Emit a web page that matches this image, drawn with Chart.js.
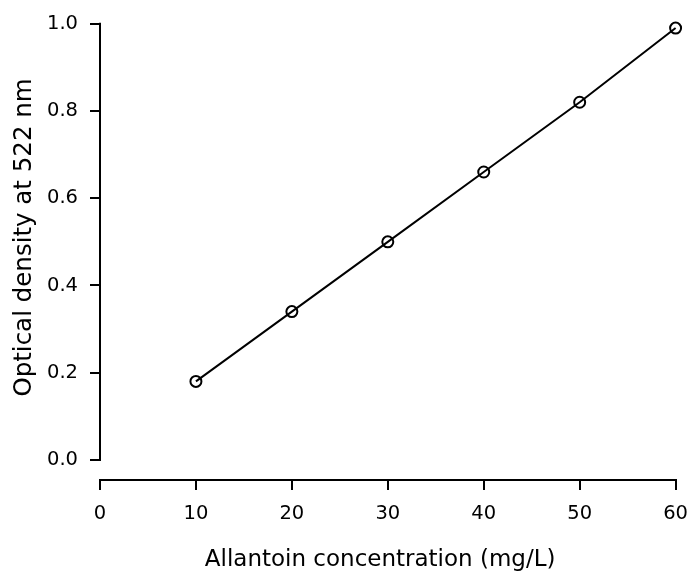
<!DOCTYPE html>
<html>
<head>
<meta charset="utf-8">
<title>Allantoin calibration</title>
<script src="https://cdn.jsdelivr.net/npm/chart.js@4/dist/chart.umd.min.js"></script>
<style>
    html, body { margin: 0; padding: 0; background: #fff; overflow: hidden; }
    #wrap { width: 700px; height: 572px; }
</style>
</head>
<body>
<div id="wrap"><canvas id="chart" width="700" height="572"></canvas></div>
<script>
// Calibration data
const concentration = [10, 20, 30, 40, 50, 60];
const density = [0.18, 0.34, 0.50, 0.66, 0.82, 0.99];
const yTicks = [0.0, 0.2, 0.4, 0.6, 0.8, 1.0];
const xTitle = 'Allantoin concentration (mg/L)';
const yTitle = 'Optical density at 522 nm';

const FAMILY = '"DejaVu Sans", sans-serif';
const TICK_FONT = { family: FAMILY, size: 19.5, lineHeight: 1.2 };

// y axis line (0..1 only, detached from the x axis) and both axis titles
const axisDecor = {
    id: 'axisDecor',
    afterDraw(chart) {
        const x = chart.scales.x;
        const y = chart.scales.y;
        const ctx = chart.ctx;
        const y0 = y.getPixelForValue(yTicks[0]);
        const y1 = y.getPixelForValue(yTicks[yTicks.length - 1]);
        ctx.save();
        ctx.strokeStyle = '#000';
        ctx.lineWidth = 2;
        ctx.beginPath();
        ctx.moveTo(chart.chartArea.left, y0 + 1);
        ctx.lineTo(chart.chartArea.left, y1 - 1);
        ctx.stroke();

        ctx.fillStyle = '#000';
        ctx.textAlign = 'center';
        ctx.textBaseline = 'alphabetic';
        ctx.font = `23px ${FAMILY}`;
        ctx.fillText(xTitle, x.getPixelForValue(29.2), 566);

        ctx.translate(31, y.getPixelForValue(0.51));
        ctx.rotate(-Math.PI / 2);
        ctx.font = `24.5px ${FAMILY}`;
        ctx.fillText(yTitle, 0, 0);
        ctx.restore();
    }
};

new Chart(document.getElementById('chart'), {
    type: 'scatter',
    data: {
        datasets: [{
            data: concentration.map((c, i) => ({ x: c, y: density[i] })),
            showLine: true,
            borderColor: '#000',
            borderWidth: 2,
            pointRadius: 5.5,
            pointBorderWidth: 2,
            pointBorderColor: '#000',
            pointBackgroundColor: 'rgba(0,0,0,0)',
            clip: false
        }]
    },
    options: {
        responsive: false,
        animation: false,
        layout: { padding: { top: 21, right: 24, left: 0, bottom: 0 } },
        plugins: { legend: { display: false }, tooltip: { enabled: false } },
        scales: {
            x: {
                type: 'linear',
                min: 0,
                max: 60,
                ticks: { stepSize: 10, color: '#000', font: TICK_FONT, padding: 12, maxRotation: 0 },
                grid: { drawOnChartArea: false, drawTicks: true, tickLength: 10, color: '#000', lineWidth: 2 },
                border: { display: true, color: '#000', width: 2 },
                title: { display: false },
                afterFit(scale) { scale.height = 92; }
            },
            y: {
                type: 'linear',
                min: -0.046,
                max: 1.0,
                afterBuildTicks(scale) { scale.ticks = yTicks.map(v => ({ value: v })); },
                ticks: { color: '#000', font: TICK_FONT, padding: 12, callback: v => v.toFixed(1) },
                grid: { drawOnChartArea: false, drawTicks: true, tickLength: 10, color: '#000', lineWidth: 2 },
                border: { display: false },
                title: { display: false },
                afterFit(scale) { scale.width = 100; }
            }
        }
    },
    plugins: [axisDecor]
});
</script>
</body>
</html>
